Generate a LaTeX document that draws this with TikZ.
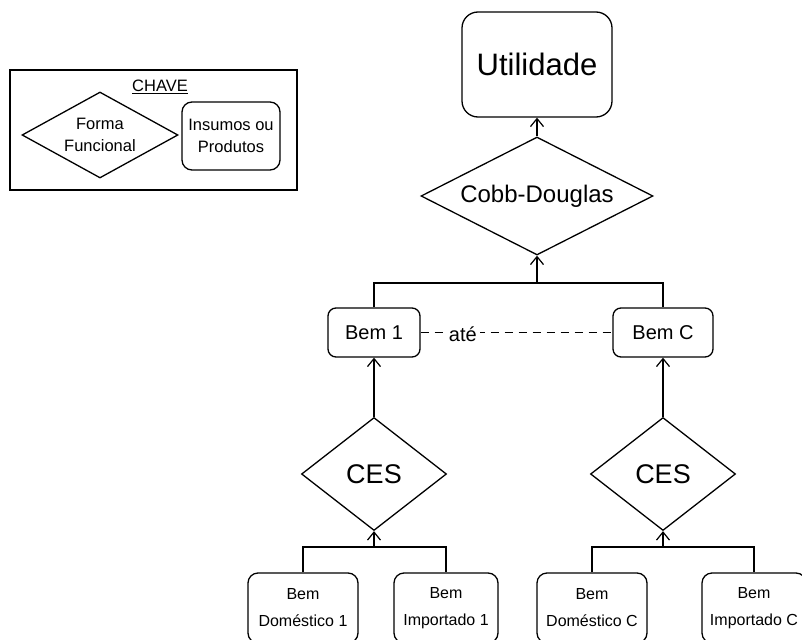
\documentclass[tikz,border=0pt]{standalone}
\usepackage{fontspec}
\setmainfont{Liberation Sans}
\usetikzlibrary{shapes.geometric,arrows.meta}
\begin{document}
\begin{tikzpicture}[x=1pt,y=-1pt,
  line width=1.3pt,
  box/.style={draw, rectangle, rounded corners=#1, inner sep=0pt, align=center},
  box/.default=8pt,
  dia/.style={draw, diamond, inner sep=0pt, align=center},
  arr/.style={-{Straight Barb[length=8pt,width=13pt,line width=1.2pt]}},
  big/.style={font=\fontsize{31}{36}\selectfont},
  mid/.style={font=\fontsize{24}{28}\selectfont},
  med/.style={font=\fontsize{20}{24}\selectfont},
  small/.style={font=\fontsize{16}{27}\selectfont},
  leg/.style={font=\fontsize{16.5}{22}\selectfont}
]
\useasboundingbox (0,0) rectangle (802,639);
\clip (0,0) rectangle (802,639);
\fill[white] (0,0) rectangle (802,639);

% legend
\node[draw, rectangle, line width=2.6pt, minimum width=287pt, minimum height=120pt, inner sep=0pt] (legend) at (153.5,130) {};
\node[leg] (chave) at (160,87) {\underline{CHAVE}};
\node[dia, leg, minimum width=156pt, minimum height=86pt, aspect=1.8] (legdia) at (100,135) {Forma\\Funcional};
\node[box=10pt, leg, minimum width=98pt, minimum height=68pt] (legbox) at (231,136) {Insumos ou\\Produtos};

% main
\node[box=16pt, big, minimum width=150pt, minimum height=105pt] (util) at (537,64.5) {Utilidade};
\node[dia, mid, minimum width=232pt, minimum height=118pt, aspect=1.97] (cd) at (537,196) {Cobb-Douglas};

\node[box=8pt, med, minimum width=92pt, minimum height=49pt] (bem1) at (374,332.5) {Bem 1};
\node[box=8pt, med, minimum width=100pt, minimum height=49pt] (bemc) at (663,332.5) {Bem C};

\node[dia, font=\fontsize{27}{30}\selectfont, minimum width=145pt, minimum height=113pt, aspect=1.28] (ces1) at (374,474) {CES};
\node[dia, font=\fontsize{27}{30}\selectfont, minimum width=145pt, minimum height=113pt, aspect=1.28] (ces2) at (663,474) {CES};

\node[box=10pt, small, minimum width=110pt, minimum height=70pt] (bd1) at (303,608) {Bem\\Doméstico 1};
\node[box=10pt, small, minimum width=104pt, minimum height=70pt] (bi1) at (446,608) {Bem\\Importado 1};
\node[box=10pt, small, minimum width=110pt, minimum height=70pt] (bdc) at (592,608) {Bem\\Doméstico C};
\node[box=10pt, small, minimum width=104pt, minimum height=70pt] (bic) at (754,608) {Bem\\Importado C};

% connectors
\draw[arr] (cd.north) -- (util.south);
\coordinate (j1) at (537,283);
\draw (bem1.north) |- (j1) -| (bemc.north);
\draw[arr] (j1) -- (cd.south);
\draw[dashed, dash pattern=on 8pt off 6pt] (bem1.east) -- node[pos=0.22, fill=white, inner sep=3pt, med, yshift=-2pt] (ate) {até} (bemc.west);

\draw[arr] (ces1.north) -- (bem1.south);
\draw[arr] (ces2.north) -- (bemc.south);

\coordinate (j2) at (374,547);
\draw (bd1.north) |- (j2) -| (bi1.north);
\draw[arr] (j2) -- (ces1.south);
\coordinate (j3) at (663,547);
\draw (bdc.north) |- (j3) -| (bic.north);
\draw[arr] (j3) -- (ces2.south);
\end{tikzpicture}
\end{document}
